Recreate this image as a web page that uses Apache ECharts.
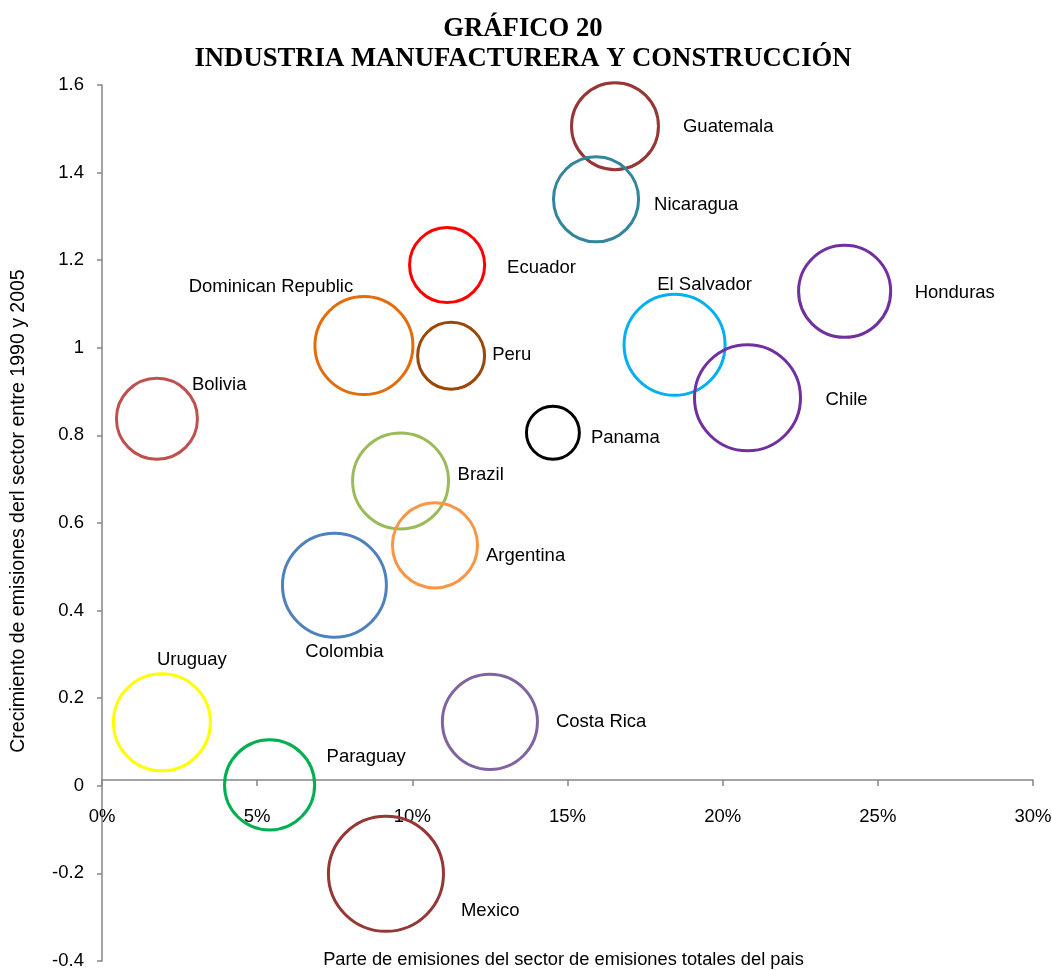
<!DOCTYPE html>
<html>
<head>
<meta charset="utf-8">
<script src="https://cdn.jsdelivr.net/npm/echarts@6/dist/echarts.min.js"></script>
<style>html,body{margin:0;padding:0;background:#fff}#c{width:1052px;height:970px}</style>
</head>
<body>
<div id="c"></div>
<script>
// Data
const countries = ['Guatemala','Nicaragua','Ecuador','Dominican Republic','Peru','Bolivia','El Salvador','Honduras','Chile','Panama','Brazil','Argentina','Colombia','Uruguay','Paraguay','Costa Rica','Mexico'];
const sectorShare = [16.53, 15.92, 11.12, 8.44, 11.25, 1.77, 18.45, 23.93, 20.80, 14.53, 9.62, 10.73, 7.49, 1.93, 5.40, 12.50, 9.15];
const emissionGrowth = [1.506, 1.339, 1.189, 1.005, 0.982, 0.838, 1.007, 1.129, 0.886, 0.806, 0.696, 0.549, 0.458, 0.145, 0.002, 0.146, -0.201];
const bubbleSize = [18.9, 18.1, 14.1, 24.0, 11.2, 16.4, 25.5, 21.2, 28.1, 7.0, 23.0, 18.1, 27.0, 23.5, 20.3, 22.6, 33.1];
const xTicks = ['0%','5%','10%','15%','20%','25%','30%'];

// Styles
const colors = ['#953735','#31859C','#FF0000','#E46C0A','#984807','#C0504D','#00B0F0','#7030A0','#7030A0','#000000','#9BBB59','#F79646','#4F81BD','#FFFF00','#00B050','#8064A2','#953735'];
const labelLayout = {
  'Guatemala': ['left', 68, 1],
  'Nicaragua': ['left', 58, 6],
  'Ecuador': ['left', 60, 3],
  'Dominican Republic': ['center', -93, -59],
  'Peru': ['left', 41, -1],
  'Bolivia': ['left', 35, -34],
  'El Salvador': ['center', 30, -60],
  'Honduras': ['left', 70, 2],
  'Chile': ['left', 78, 2],
  'Panama': ['left', 38, 5],
  'Brazil': ['left', 57, -6],
  'Argentina': ['left', 51, 11],
  'Colombia': ['center', 10, 67],
  'Uruguay': ['center', 30, -62],
  'Paraguay': ['left', 57, -28],
  'Costa Rica': ['left', 66, 0],
  'Mexico': ['left', 75, 37]
};

const seriesData = countries.map((name, i) => {
  const l = labelLayout[name];
  return {
    name: name,
    value: [sectorShare[i], emissionGrowth[i], bubbleSize[i]],
    itemStyle: { color: 'rgba(0,0,0,0)', borderColor: colors[i], borderWidth: 3, opacity: 1 },
    label: { show: true, position: 'inside', align: l[0], verticalAlign: 'middle', offset: [l[1], l[2]], formatter: name }
  };
});

const axisGray = '#868686';
const FS = 18.5;
const chart = echarts.init(document.getElementById('c'));
chart.setOption({
  animation: false,
  backgroundColor: '#fff',
  title: {
    text: 'GRÁFICO 20\nINDUSTRIA MANUFACTURERA Y CONSTRUCCIÓN',
    left: 518, top: 9, textAlign: 'center',
    textStyle: { fontFamily: 'Liberation Serif', fontWeight: 'bold', fontSize: 26.7, lineHeight: 30, color: '#000' }
  },
  grid: [
    { left: 102, right: 19, top: 85, bottom: 9, containLabel: false, outerBoundsMode: 'none' },
    // upper grid whose bottom edge is the horizontal (zero) axis line
    { left: 102, right: 19, top: 85, bottom: 190, containLabel: false, outerBoundsMode: 'none' }
  ],
  xAxis: [
    { type: 'value', gridIndex: 0, min: 0, max: 30, interval: 5, show: false, splitLine: { show: false } },
    {
      type: 'value', gridIndex: 1, min: 0, max: 30, interval: 5, position: 'bottom',
      name: 'Parte de emisiones del sector de emisiones totales del pais',
      nameLocation: 'middle', nameGap: 171,
      nameTextStyle: { fontFamily: 'Liberation Sans', fontSize: 18.3, color: '#000', padding: [0, 8, 0, 0] },
      axisLine: { onZero: false, lineStyle: { color: axisGray, width: 1.5 } },
      axisTick: { show: true, inside: false, length: 6, lineStyle: { color: axisGray, width: 1.5 } },
      axisLabel: { margin: 27, fontFamily: 'Liberation Sans', fontSize: FS, color: '#000',
        formatter: (v) => xTicks[Math.round(v / 5)] },
      splitLine: { show: false }
    }
  ],
  yAxis: [
    {
      type: 'value', gridIndex: 0, min: -0.4, max: 1.6, interval: 0.2,
      name: 'Crecimiento de emisiones derl sector entre 1990 y 2005',
      nameLocation: 'middle', nameGap: 73, nameRotate: 90,
      nameTextStyle: { fontFamily: 'Liberation Sans', fontSize: 19.5, color: '#000', padding: [0, 0, 0, 24] },
      axisLine: { show: true, onZero: false, lineStyle: { color: axisGray, width: 1.5 } },
      axisTick: { show: true, length: 5, lineStyle: { color: axisGray, width: 1.5 } },
      axisLabel: { margin: 18, fontFamily: 'Liberation Sans', fontSize: FS, color: '#000',
        formatter: (v) => String(Math.round(v * 10) / 10) },
      splitLine: { show: false }
    },
    { type: 'value', gridIndex: 1, min: 0, max: 1, show: false, splitLine: { show: false } }
  ],
  series: [{
    type: 'scatter',
    xAxisIndex: 0, yAxisIndex: 0,
    clip: false,
    symbol: 'circle',
    symbolSize: (val) => 20 * Math.sqrt(val[2]),
    itemStyle: { opacity: 1 },
    label: { fontFamily: 'Liberation Sans', fontSize: FS, color: '#000', opacity: 1 },
    emphasis: { disabled: true },
    z: 3,
    data: seriesData
  }]
});
</script>
</body>
</html>
